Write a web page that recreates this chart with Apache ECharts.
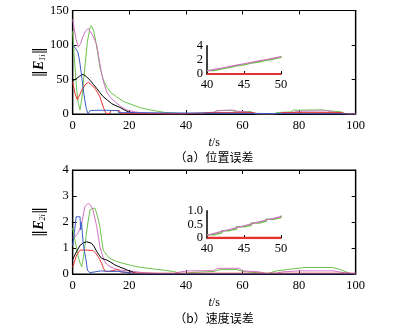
<!DOCTYPE html>
<html><head><meta charset="utf-8">
<script src="https://cdn.jsdelivr.net/npm/echarts@6/dist/echarts.min.js"></script>
<style>html,body{margin:0;padding:0;background:#fff}#c{width:393px;height:328px}</style>
</head><body><div id="c"></div>
<script>
// ---- tick values ----
const xTicks = [0, 20, 40, 60, 80, 100];
const posTicks = [0, 50, 100, 150];
const velTicks = [0, 1, 2, 3, 4];
const insetX = [40, 45, 50];
const posInsetTicks = [0, 2, 4];
const velInsetTicks = [0, 0.5, 1.0];

// ---- (a) position error, [t, value] ----
const posBlue = [[0,100],[1,95],[1.9,89],[2.5,75],[3,60],[3.6,40],[4.2,22],[4.8,8],[5.4,0.5],[6,0.3],[6.2,5],[10,5.5],[16,5],[16.2,2],[18,2],[18.2,0],[100,0]];
const posGreen = [[0,120],[0.6,80],[1.3,40],[2,15],[2.6,6],[3.3,25],[4.3,68],[5.2,105],[6.1,125],[6.6,128],[7.3,122],[7.9,111],[8.8,90],[9.6,68],[10.8,50],[12,39],[13.5,31],[15.5,25],[18,18],[21.3,13],[24,9],[27.3,6],[30,4],[33,2],[36.7,1],[38,0],[40,0.5],[45,1.5],[50,2.5],[51,5],[56,5.5],[57,4],[63,3.5],[64,0.5],[66,0],[71,0],[72,2],[77,3],[78,5.5],[88,6],[91,4.5],[95,3],[96,1],[98,0],[100,0]];
const posPink = [[0,137],[0.5,125],[1.2,108],[2,97],[2.8,102],[3.6,112],[4.5,120],[5.5,124],[6.2,123],[7.2,113],[8.5,100],[9.3,80],[10.2,59],[11,45],[12,32],[13.3,24],[14.9,18],[17,11],[19,6],[22,3],[25,1.5],[30,0.5],[35,0],[40,0.5],[45,1.5],[50,2.5],[51,4.5],[55,5.5],[57,5.5],[58,4],[62,3],[64,0.5],[66,0],[72,0],[73,1],[78,2.5],[80,4],[90,4.5],[92,3],[95,1.5],[97,0],[100,0]];
const posBlack = [[0,48],[1.2,51],[2.5,55],[3.7,57.5],[4.9,54],[6.1,49],[7.3,43],[8.5,37],[9.6,31],[10.8,25],[12.3,20],[13.8,15],[15.3,12],[16.7,9.5],[18.2,6],[19.6,3.3],[21.5,1.5],[23,0.3],[25,0],[100,0]];
const posRed = [[0,46],[0.8,30],[1.6,21],[2.5,28],[3.5,37],[4.3,42],[5.5,46],[6.7,42],[7.9,37],[8.8,31],[9.6,25],[10.3,16],[11,8],[11.8,0.5],[13,0.5],[13.5,5],[16.5,5],[17,0.5],[46,0.5],[47,2],[64,2],[65,0.5],[73,0.5],[74,2],[95,2],[96,0.5],[100,0.5]];

// ---- (b) velocity error, [t, value] ----
const velBlue = [[0,1.1],[0.6,1.6],[1.2,2.2],[2.6,2.2],[2.8,1.7],[3.1,2.0],[3.4,1.6],[3.7,1.18],[4.2,0.85],[4.7,0.54],[5.2,0.15],[6,0.05],[6.5,0.12],[10,0.12],[13,0.1],[16,0.1],[20,0.05],[22,0],[100,0]];
const velGreen = [[0,1.77],[0.8,1.3],[1.7,0.8],[2.5,0.45],[3.2,0.28],[4,0.8],[4.7,1.44],[5.4,2.0],[6.1,2.46],[7,2.52],[7.9,2.53],[8.8,2.2],[9.6,1.82],[10.2,1.35],[10.8,0.92],[12,0.72],[13.2,0.6],[15.5,0.48],[17.8,0.41],[20.7,0.33],[23.7,0.26],[26.6,0.22],[29.6,0.18],[32.5,0.14],[35.5,0.1],[37.9,0.03],[40,0.02],[42,0.06],[50,0.1],[52,0.17],[58,0.17],[60,0.1],[65,0.05],[69,0.02],[72,0.12],[78,0.2],[82,0.25],[92,0.25],[95,0.15],[98,0.02],[100,0]];
const velPink = [[0,1.4],[1,1.45],[2,1.6],[3.2,1.95],[4.3,2.59],[5.5,2.72],[6.3,2.65],[7.2,2.46],[8.5,1.82],[9.6,1.05],[11,0.54],[12,0.38],[13.2,0.28],[15,0.2],[16.7,0.15],[21.4,0.1],[25,0.05],[30,0.02],[36,0.02],[38,0.08],[41,0.12],[50,0.13],[51,0.22],[59,0.22],[60,0.12],[66,0.08],[68,0.02],[72,0.03],[74,0.08],[80,0.12],[92,0.12],[96,0.05],[100,0]];
const velBlack = [[0,0.56],[1.3,0.85],[2.6,1.1],[3.8,1.2],[4.9,1.24],[6.7,1.18],[7.6,1.05],[8.5,0.86],[9.4,0.72],[10.2,0.6],[12,0.54],[13.5,0.45],[14.9,0.35],[16.3,0.28],[17.8,0.22],[19.3,0.15],[20.7,0.1],[22.4,0.02],[24,0],[100,0]];
const velRed = [[0,0.26],[0.7,0.5],[1.4,0.73],[2.6,0.92],[5,0.92],[7.2,0.9],[8.1,0.8],[9,0.67],[9.6,0.55],[10.2,0.41],[10.8,0.25],[11.4,0.1],[12.5,0.1],[13,0.17],[16,0.17],[17,0.08],[20,0.05],[25,0.03],[100,0.03]];

// ---- insets (t = 40..50) ----
const insetT = [40,41,42,43,44,45,46,47,48,49,50];
const posInsetGreen = [0.5,0.75,0.9,1.15,1.3,1.55,1.7,1.95,2.1,2.35,2.5];
const posInsetPink = [0.45,0.65,0.85,1.05,1.25,1.45,1.65,1.85,2.05,2.25,2.45];
const posInsetRed = [0,0,0,0,0,0,0,0,0,0,0];
const velInsetGreen = [0.12,0.19,0.27,0.33,0.41,0.47,0.55,0.61,0.69,0.75,0.82];
const velInsetPink = [0.1,0.17,0.24,0.31,0.38,0.45,0.52,0.59,0.66,0.72,0.78];
const velInsetRed = [0,0,0,0,0,0,0,0,0,0,0];

const C = {blue:'#3a5cc5', green:'#6cc24a', pink:'#d271c4', red:'#e8312f', black:'#000000'};
const SERIF = 'Liberation Serif';
const lab = {color:'#000', fontFamily:SERIF, fontSize:12.5};

function mainX(gi, pos) {
  const top = pos === 'top';
  return {gridIndex:gi, type:'value', position:pos, min:xTicks[0], max:xTicks[xTicks.length-1], interval:xTicks[1]-xTicks[0],
    axisLine:{show:true, onZero:false, lineStyle:{color:'#000', width:1.2}},
    axisTick:{show:true, inside:true, length:4, lineStyle:{color:'#000'}},
    axisLabel:{show:!top, ...lab, margin:5},
    splitLine:{show:false},
    name: top ? '' : '{i|t}{n|/s}', nameLocation:'middle', nameGap:23, nameMoveOverlap:false,
    nameTextStyle:{rich:{i:{fontFamily:SERIF, fontStyle:'italic', fontSize:12, color:'#000'}, n:{fontFamily:SERIF, fontSize:12, color:'#000'}}}};
}
function mainY(gi, pos, ticks, sub) {
  const right = pos === 'right';
  return {gridIndex:gi, type:'value', position:pos, min:ticks[0], max:ticks[ticks.length-1], interval:ticks[1]-ticks[0],
    axisLine:{show:true, onZero:false, lineStyle:{color:'#000', width:1.2}},
    axisTick:{show:true, inside:true, length:4, lineStyle:{color:'#000'}},
    axisLabel:{show:!right, ...lab, margin:4},
    splitLine:{show:false},
    name: right ? '' : '{b|‖}{e|E}{s|' + sub + '}{b|‖}', nameLocation:'middle', nameRotate:90, nameGap:26, nameMoveOverlap:false,
    nameTextStyle:{rich:{
      b:{fontFamily:'DejaVu Serif', fontSize:15, color:'#000'},
      e:{fontFamily:SERIF, fontStyle:'italic', fontWeight:'bold', fontSize:14, color:'#000'},
      s:{fontFamily:SERIF, fontStyle:'italic', fontSize:8, color:'#000', padding:[7,0,0,0]}}}};
}
function insetX_(gi) {
  return {gridIndex:gi, type:'value', min:insetX[0], max:insetX[insetX.length-1], interval:insetX[1]-insetX[0],
    axisLine:{show:true, onZero:false, lineStyle:{color:'#000', width:1.5}},
    axisTick:{show:true, inside:true, length:3, lineStyle:{color:'#000'}},
    axisLabel:{...lab, margin:4}, splitLine:{show:false}};
}
function insetY_(gi, ticks, fmt) {
  return {gridIndex:gi, type:'value', min:ticks[0], max:ticks[ticks.length-1], interval:ticks[1]-ticks[0],
    axisLine:{show:true, onZero:false, lineStyle:{color:'#000', width:1.5}},
    axisTick:{show:false},
    axisLabel:{...lab, margin:4, formatter:fmt}, splitLine:{show:false}};
}
function line(name, data, color, xi, yi, extra) {
  return Object.assign({name, type:'line', data, xAxisIndex:xi, yAxisIndex:yi, showSymbol:false, symbol:'none',
    lineStyle:{color, width:1}, itemStyle:{color}, animation:false}, extra||{});
}
function pair(xs, ys) { return xs.map((x, i) => [x, ys[i]]); }

const chart = echarts.init(document.getElementById('c'), null, {renderer:'canvas'});
chart.setOption({
  animation:false,
  backgroundColor:'#fff',
  grid:[
    {left:72.7, top:10.5, width:283, height:103.5, show:true, borderColor:'#000', borderWidth:1.2},
    {left:72.7, top:170, width:283, height:104, show:true, borderColor:'#000', borderWidth:1.2},
    {left:207, top:45.7, width:74, height:28.3},
    {left:207, top:210.7, width:74, height:27.3}
  ],
  xAxis:[mainX(0,'bottom'), mainX(0,'top'), mainX(1,'bottom'), mainX(1,'top'), insetX_(2), insetX_(3)],
  yAxis:[mainY(0,'left',posTicks,'1i'), mainY(0,'right',posTicks,''), mainY(1,'left',velTicks,'2i'), mainY(1,'right',velTicks,''),
         insetY_(2, posInsetTicks, v => String(v)), insetY_(3, velInsetTicks, v => v === 0 ? '0' : v.toFixed(1))],
  series:[
    line('a-green', posGreen, C.green, 0, 0),
    line('a-pink', posPink, C.pink, 0, 0),
    line('a-black', posBlack, C.black, 0, 0),
    line('a-red', posRed, C.red, 0, 0),
    line('a-blue', posBlue, C.blue, 0, 0),
    line('b-green', velGreen, C.green, 2, 2),
    line('b-pink', velPink, C.pink, 2, 2),
    line('b-black', velBlack, C.black, 2, 2),
    line('b-red', velRed, C.red, 2, 2),
    line('b-blue', velBlue, C.blue, 2, 2),
    line('ia-green', pair(insetT, posInsetGreen), C.green, 4, 4, {step:'end', lineStyle:{color:C.green, width:1.5}}),
    line('ia-pink', pair(insetT, posInsetPink), C.pink, 4, 4, {lineStyle:{color:C.pink, width:1.2}}),
    line('ia-red', pair(insetT, posInsetRed), C.red, 4, 4, {lineStyle:{color:C.red, width:2}}),
    line('ib-green', pair(insetT, velInsetGreen), C.green, 5, 5, {step:'end', lineStyle:{color:C.green, width:1.5}}),
    line('ib-pink', pair(insetT, velInsetPink), C.pink, 5, 5, {lineStyle:{color:C.pink, width:1.2}}),
    line('ib-red', pair(insetT, velInsetRed), C.red, 5, 5, {lineStyle:{color:C.red, width:2.5}})
  ],
  graphic:[
    {type:'text', x:214, y:151, style:{text:'（a）位置误差', textAlign:'center', font:'12px "Noto Sans CJK SC"', fill:'#000'}},
    {type:'text', x:214, y:312, style:{text:'（b）速度误差', textAlign:'center', font:'12px "Noto Sans CJK SC"', fill:'#000'}}
  ]
});
</script></body></html>
